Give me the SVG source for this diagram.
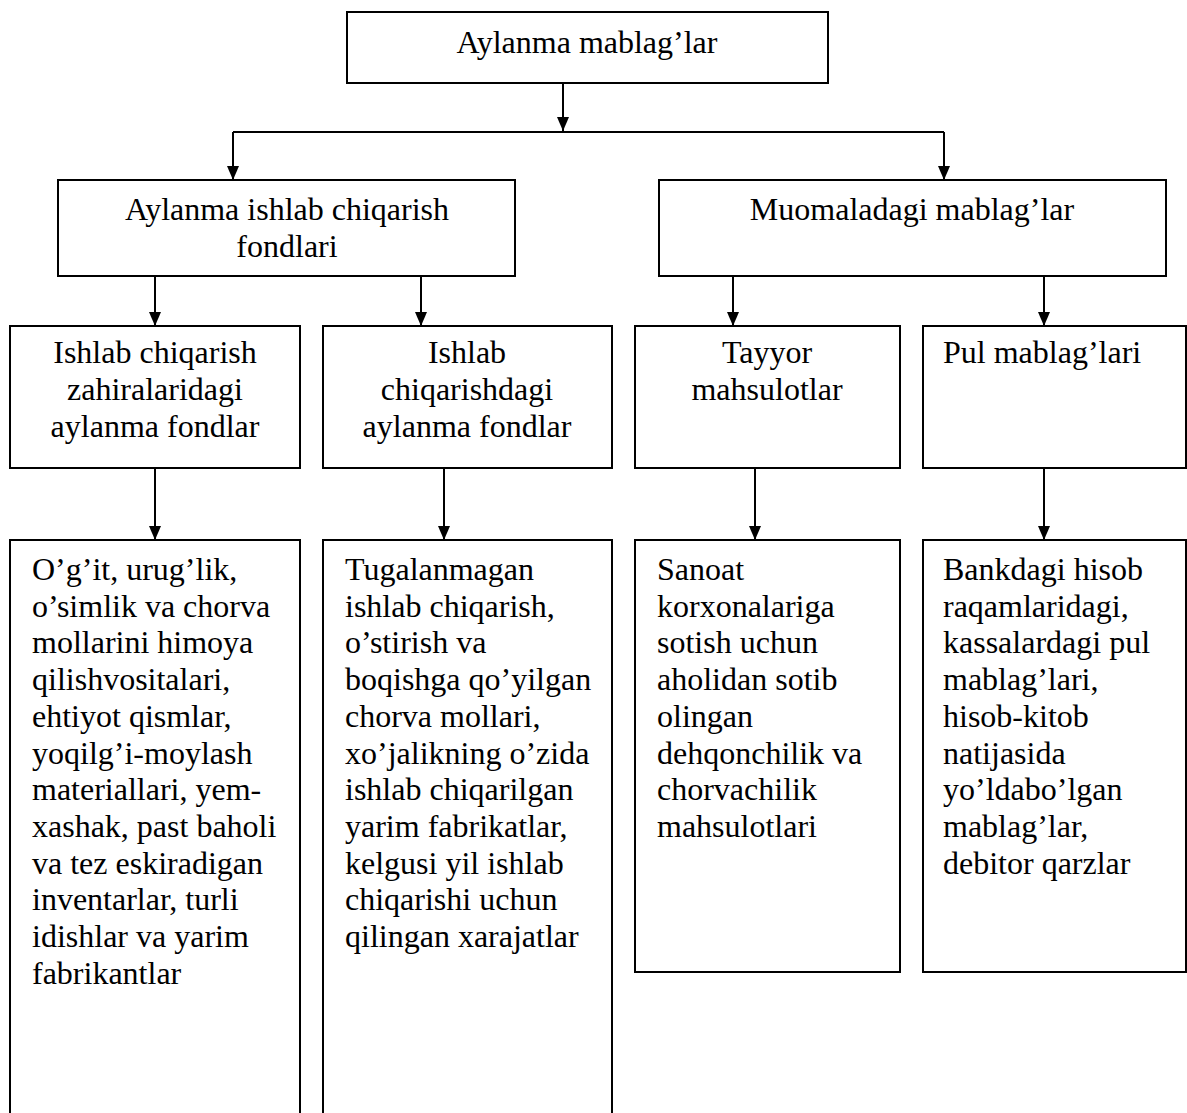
<svg xmlns="http://www.w3.org/2000/svg" width="1187" height="1113" viewBox="0 0 1187 1113">
<defs>
<style>
.box{fill:#fff;stroke:#000;stroke-width:2}
.t{font-family:"Liberation Serif","Times New Roman",serif;font-size:32px;fill:#000}
.c{text-anchor:middle}
.ln{fill:none;stroke:#000;stroke-width:2}
</style>
<marker id="ah" viewBox="0 0 14 12" refX="14" refY="6" markerWidth="14" markerHeight="12" markerUnits="userSpaceOnUse" orient="auto">
<path d="M0,0 L14,6 L0,12 z" fill="#000"/>
</marker>
</defs>
<rect width="1187" height="1113" fill="#fff"/>
<g id="connectors">
<path class="ln" d="M563,83 V131" marker-end="url(#ah)"/>
<path class="ln" d="M233,132 H944"/>
<path class="ln" d="M233,132 V180" marker-end="url(#ah)"/>
<path class="ln" d="M944,132 V180" marker-end="url(#ah)"/>
<path class="ln" d="M155,276 V326" marker-end="url(#ah)"/>
<path class="ln" d="M421,276 V326" marker-end="url(#ah)"/>
<path class="ln" d="M733,276 V326" marker-end="url(#ah)"/>
<path class="ln" d="M1044,276 V326" marker-end="url(#ah)"/>
<path class="ln" d="M155,468 V540" marker-end="url(#ah)"/>
<path class="ln" d="M444,468 V540" marker-end="url(#ah)"/>
<path class="ln" d="M755,468 V540" marker-end="url(#ah)"/>
<path class="ln" d="M1044,468 V540" marker-end="url(#ah)"/>
</g>
<g id="n-root">
<rect class="box" x="347" y="12" width="481" height="71"/>
<text class="t c" x="587" y="53">Aylanma mablag’lar</text>
</g>
<g id="n-aif">
<rect class="box" x="58" y="180" width="457" height="96"/>
<text class="t c" x="287" y="220">Aylanma ishlab chiqarish</text>
<text class="t c" x="287" y="257">fondlari</text>
</g>
<g id="n-mm">
<rect class="box" x="659" y="180" width="507" height="96"/>
<text class="t c" x="912" y="220">Muomaladagi mablag’lar</text>
</g>
<g id="n-icz">
<rect class="box" x="10" y="326" width="290" height="142"/>
<text class="t c" x="155" y="363">Ishlab chiqarish</text>
<text class="t c" x="155" y="400">zahiralaridagi</text>
<text class="t c" x="155" y="437">aylanma fondlar</text>
</g>
<g id="n-icd">
<rect class="box" x="323" y="326" width="289" height="142"/>
<text class="t c" x="467" y="363">Ishlab</text>
<text class="t c" x="467" y="400">chiqarishdagi</text>
<text class="t c" x="467" y="437">aylanma fondlar</text>
</g>
<g id="n-tm">
<rect class="box" x="635" y="326" width="265" height="142"/>
<text class="t c" x="767" y="363">Tayyor</text>
<text class="t c" x="767" y="400">mahsulotlar</text>
</g>
<g id="n-pm">
<rect class="box" x="923" y="326" width="263" height="142"/>
<text class="t" x="943" y="363">Pul mablag’lari</text>
</g>
<g id="n-d1">
<rect class="box" x="10" y="540" width="290" height="600"/>
<text class="t" x="32" y="580">
<tspan x="32" dy="0">O’g’it, urug’lik,</tspan>
<tspan x="32" dy="36.7">o’simlik va chorva</tspan>
<tspan x="32" dy="36.7">mollarini himoya</tspan>
<tspan x="32" dy="36.7">qilishvositalari,</tspan>
<tspan x="32" dy="36.7">ehtiyot qismlar,</tspan>
<tspan x="32" dy="36.7">yoqilg’i-moylash</tspan>
<tspan x="32" dy="36.7">materiallari, yem-</tspan>
<tspan x="32" dy="36.7">xashak, past baholi</tspan>
<tspan x="32" dy="36.7">va tez eskiradigan</tspan>
<tspan x="32" dy="36.7">inventarlar, turli</tspan>
<tspan x="32" dy="36.7">idishlar va yarim</tspan>
<tspan x="32" dy="36.7">fabrikantlar</tspan>
</text>
</g>
<g id="n-d2">
<rect class="box" x="323" y="540" width="289" height="600"/>
<text class="t" x="345" y="580">
<tspan x="345" dy="0">Tugalanmagan</tspan>
<tspan x="345" dy="36.7">ishlab chiqarish,</tspan>
<tspan x="345" dy="36.7">o’stirish va</tspan>
<tspan x="345" dy="36.7">boqishga qo’yilgan</tspan>
<tspan x="345" dy="36.7">chorva mollari,</tspan>
<tspan x="345" dy="36.7">xo’jalikning o’zida</tspan>
<tspan x="345" dy="36.7">ishlab chiqarilgan</tspan>
<tspan x="345" dy="36.7">yarim fabrikatlar,</tspan>
<tspan x="345" dy="36.7">kelgusi yil ishlab</tspan>
<tspan x="345" dy="36.7">chiqarishi uchun</tspan>
<tspan x="345" dy="36.7">qilingan xarajatlar</tspan>
</text>
</g>
<g id="n-d3">
<rect class="box" x="635" y="540" width="265" height="432"/>
<text class="t" x="657" y="580">
<tspan x="657" dy="0">Sanoat</tspan>
<tspan x="657" dy="36.7">korxonalariga</tspan>
<tspan x="657" dy="36.7">sotish uchun</tspan>
<tspan x="657" dy="36.7">aholidan sotib</tspan>
<tspan x="657" dy="36.7">olingan</tspan>
<tspan x="657" dy="36.7">dehqonchilik va</tspan>
<tspan x="657" dy="36.7">chorvachilik</tspan>
<tspan x="657" dy="36.7">mahsulotlari</tspan>
</text>
</g>
<g id="n-d4">
<rect class="box" x="923" y="540" width="263" height="432"/>
<text class="t" x="943" y="580">
<tspan x="943" dy="0">Bankdagi hisob</tspan>
<tspan x="943" dy="36.7">raqamlaridagi,</tspan>
<tspan x="943" dy="36.7">kassalardagi pul</tspan>
<tspan x="943" dy="36.7">mablag’lari,</tspan>
<tspan x="943" dy="36.7">hisob-kitob</tspan>
<tspan x="943" dy="36.7">natijasida</tspan>
<tspan x="943" dy="36.7">yo’ldabo’lgan</tspan>
<tspan x="943" dy="36.7">mablag’lar,</tspan>
<tspan x="943" dy="36.7">debitor qarzlar</tspan>
</text>
</g>
</svg>
